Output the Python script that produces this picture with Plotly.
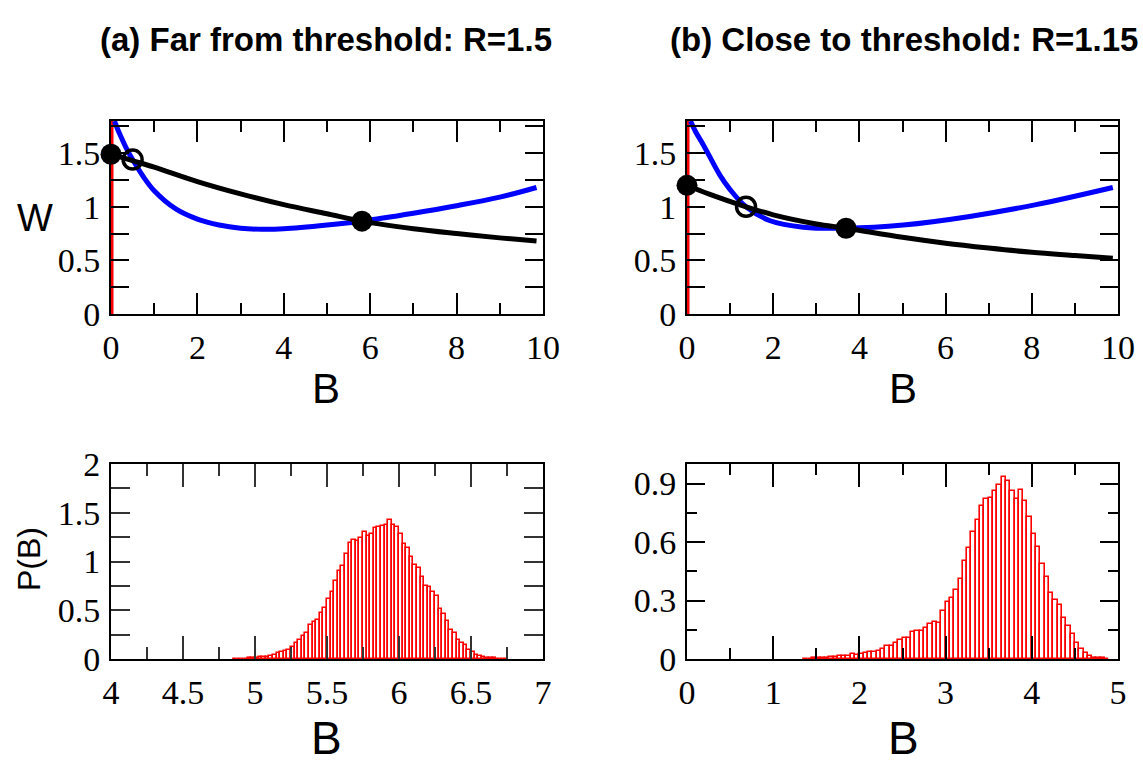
import numpy as np
import plotly.graph_objects as go

# ---------------- data ----------------
# Panel (a): R = 1.5
a_black_B = [0, 0.5, 1, 2, 3, 4, 5, 5.8, 7, 8, 9, 9.85]
a_black_W = [1.49, 1.43, 1.37, 1.235, 1.12, 1.02, 0.935, 0.866, 0.795, 0.75, 0.71, 0.68]
a_blue_B = [0.08, 0.2, 0.35, 0.5, 0.75, 1.0, 1.5, 2.0, 2.5, 3.0, 3.5, 4.0, 5.0, 5.8, 7.0, 8.0, 9.0, 9.85]
a_blue_W = [1.8, 1.68, 1.55, 1.44, 1.28, 1.15, 0.98, 0.885, 0.83, 0.80, 0.79, 0.795, 0.83, 0.866, 0.94, 1.01, 1.09, 1.18]
a_stable_B = [0, 5.81]
a_stable_W = [1.49, 0.866]
a_unstable_B = [0.5]
a_unstable_W = [1.44]

# Panel (b): R = 1.15
b_black_B = [0, 0.5, 1.37, 2, 3, 3.69, 5, 6, 7, 8, 9, 9.88]
b_black_W = [1.2, 1.12, 1.0, 0.925, 0.84, 0.80, 0.715, 0.66, 0.615, 0.575, 0.545, 0.52]
b_blue_B = [0.08, 0.2, 0.39, 0.77, 1.0, 1.37, 1.93, 2.7, 3.69, 5.02, 6.56, 8.1, 9.88]
b_blue_W = [1.8, 1.7, 1.57, 1.29, 1.16, 1.0, 0.87, 0.81, 0.80, 0.83, 0.91, 1.02, 1.18]
b_stable_B = [0, 3.69]
b_stable_W = [1.2, 0.80]
b_unstable_B = [1.37]
b_unstable_W = [1.0]

red_B = [0, 0]
red_W = [0, 1.8]

# Histograms P(B)
hist_a_start, hist_a_bin = 4.85, 0.025
hist_a_P = [0.002, 0.003, 0.004, 0.005, 0.007, 0.01, 0.014, 0.017, 0.02, 0.024,
            0.034, 0.044, 0.058, 0.072, 0.085, 0.096, 0.123, 0.168, 0.19, 0.236,
            0.27, 0.345, 0.376, 0.40, 0.47, 0.52, 0.615, 0.69, 0.80, 0.905,
            0.954, 1.073, 1.193, 1.22, 1.214, 1.244, 1.30, 1.265, 1.28, 1.347,
            1.35, 1.364, 1.37, 1.43, 1.374, 1.35, 1.28, 1.18, 1.135, 1.043,
            0.96, 0.933, 0.836, 0.752, 0.742, 0.684, 0.643, 0.513, 0.458, 0.39,
            0.294, 0.263, 0.198, 0.164, 0.14, 0.096, 0.068, 0.044, 0.027, 0.017,
            0.014, 0.01, 0.007, 0.005, 0.003, 0.002]
hist_b_start, hist_b_bin = 1.35, 0.05
hist_b_P = [0.001, 0.002, 0.003, 0.004, 0.005, 0.007, 0.009, 0.01, 0.014, 0.014,
            0.017, 0.026, 0.022, 0.026, 0.031, 0.038, 0.038, 0.043, 0.05, 0.069,
            0.069, 0.082, 0.10, 0.11, 0.106, 0.137, 0.144, 0.144, 0.16, 0.178,
            0.192, 0.187, 0.245, 0.293, 0.314, 0.353, 0.408, 0.502, 0.571, 0.651,
            0.711, 0.785, 0.821, 0.826, 0.861, 0.89, 0.931, 0.914, 0.864, 0.823,
            0.869, 0.811, 0.729, 0.643, 0.574, 0.485, 0.42, 0.341, 0.302, 0.279,
            0.209, 0.168, 0.129, 0.082, 0.051, 0.031, 0.014, 0.007, 0.005, 0.003, 0.002]

titles = ["(a) Far from threshold: R=1.5", "(b) Close to threshold: R=1.15"]

# ---------------- figure ----------------
W_PX, H_PX = 1143, 767
fig = go.Figure()

def top_panel(xa, ya, blue_B, blue_W, black_B, black_W, st_B, st_W, un_B, un_W):
    fig.add_trace(go.Scatter(x=red_B, y=red_W, mode="lines", line=dict(color="red", width=5),
                             xaxis=xa, yaxis=ya, showlegend=False, hoverinfo="skip"))
    fig.add_trace(go.Scatter(x=blue_B, y=blue_W, mode="lines", line=dict(color="#0000ff", width=5, shape="spline", smoothing=1.0),
                             xaxis=xa, yaxis=ya, showlegend=False))
    fig.add_trace(go.Scatter(x=black_B, y=black_W, mode="lines", line=dict(color="black", width=5, shape="spline", smoothing=1.0),
                             xaxis=xa, yaxis=ya, showlegend=False))
    fig.add_trace(go.Scatter(x=st_B, y=st_W, mode="markers", marker=dict(color="black", size=21),
                             xaxis=xa, yaxis=ya, showlegend=False, cliponaxis=False))
    fig.add_trace(go.Scatter(x=un_B, y=un_W, mode="markers",
                             marker=dict(color="rgba(0,0,0,0)", size=19, line=dict(color="black", width=3.5)),
                             xaxis=xa, yaxis=ya, showlegend=False, cliponaxis=False))

top_panel("x", "y", a_blue_B, a_blue_W, a_black_B, a_black_W, a_stable_B, a_stable_W, a_unstable_B, a_unstable_W)
top_panel("x2", "y2", b_blue_B, b_blue_W, b_black_B, b_black_W, b_stable_B, b_stable_W, b_unstable_B, b_unstable_W)

def hist_panel(xa, ya, start, binw, P):
    left = start + binw * np.arange(len(P))
    fig.add_trace(go.Bar(x=left, y=P, width=binw, offset=0, xaxis=xa, yaxis=ya, showlegend=False,
                         marker=dict(color="white", line=dict(color="red", width=1.6))))

hist_panel("x3", "y3", hist_a_start, hist_a_bin, hist_a_P)
hist_panel("x4", "y4", hist_b_start, hist_b_bin, hist_b_P)

tickfont = dict(family="Liberation Serif, Times New Roman, serif", size=34, color="black")

def xax(domain, rng, dtick, mdtick, anchor, mlen, mnlen, tcolor="black"):
    return dict(domain=domain, range=rng, anchor=anchor, tick0=0, dtick=dtick, ticks="inside",
                ticklen=mlen, tickwidth=2, tickcolor=tcolor, showline=True, linecolor="black", linewidth=2,
                mirror="allticks", showgrid=False, zeroline=False, tickfont=tickfont, automargin=False,
                minor=dict(dtick=mdtick, tick0=0, ticks="inside", ticklen=mnlen, tickwidth=2, tickcolor=tcolor, showgrid=False),
                ticklabelstandoff=2, layer="above traces")

def yax(domain, rng, dtick, mdtick, anchor, mlen, mnlen, tcolor="black"):
    return dict(domain=domain, range=rng, anchor=anchor, tick0=0, dtick=dtick, ticks="inside",
                ticklen=mlen, tickwidth=2, tickcolor=tcolor, showline=True, linecolor="black", linewidth=2,
                mirror="allticks", showgrid=False, zeroline=False, tickfont=tickfont, automargin=False,
                minor=dict(dtick=mdtick, tick0=0, ticks="inside", ticklen=mnlen, tickwidth=2, tickcolor=tcolor, showgrid=False),
                ticklabelstandoff=2, layer="above traces")

def dx(a, b):
    return [a / W_PX, b / W_PX]

def dy(top, bottom):
    return [1 - bottom / H_PX, 1 - top / H_PX]

fig.update_layout(
    width=W_PX, height=H_PX, margin=dict(l=0, r=0, t=0, b=0, pad=0, autoexpand=False),
    paper_bgcolor="white", plot_bgcolor="white", bargap=0, showlegend=False,
    xaxis=xax(dx(111, 543), [0, 10], 2, 1, "y", 21, 11),
    yaxis=yax(dy(121, 314), [0, 1.8], 0.5, 0.25, "x", 18, 18),
    xaxis2=xax(dx(687, 1118), [0, 10], 2, 1, "y2", 21, 11),
    yaxis2=yax(dy(121, 314), [0, 1.8], 0.5, 0.25, "x2", 18, 18),
    xaxis3=xax(dx(111, 543), [4, 7], 0.5, 0.25, "y3", 23, 12, "#333333"),
    yaxis3=yax(dy(464, 659), [0, 2], 0.5, 0.25, "x3", 19, 19, "#333333"),
    xaxis4=xax(dx(687, 1118), [0, 5], 1, 0.5, "y4", 23, 11),
    yaxis4=yax(dy(464, 659), [0, 1.0], 0.3, 0.15, "x4", 18, 10),
)

title_font = dict(family="Liberation Sans, Arial, sans-serif", size=33, color="black")
label_font = dict(family="Liberation Sans, Arial, sans-serif", size=42, color="black")
ann = [
    dict(text="<b>" + titles[0] + "</b>", x=326 / W_PX, y=1 - 40 / H_PX, font=title_font),
    dict(text="<b>" + titles[1] + "</b>", x=904 / W_PX, y=1 - 40 / H_PX, font=title_font),
    dict(text="W", x=35 / W_PX, y=1 - 218 / H_PX, font=dict(label_font, size=38)),
    dict(text="B", x=326 / W_PX, y=1 - 388 / H_PX, font=label_font),
    dict(text="B", x=903 / W_PX, y=1 - 388 / H_PX, font=label_font),
    dict(text="B", x=326 / W_PX, y=1 - 738 / H_PX, font=dict(label_font, size=46)),
    dict(text="B", x=903 / W_PX, y=1 - 738 / H_PX, font=dict(label_font, size=46)),
    dict(text="P(B)", x=29 / W_PX, y=1 - 559 / H_PX, textangle=-90, font=dict(label_font, size=32)),
]
for a in ann:
    a.update(xref="paper", yref="paper", showarrow=False, xanchor="center", yanchor="middle")
fig.update_layout(annotations=ann)

fig.write_html("out.html")
